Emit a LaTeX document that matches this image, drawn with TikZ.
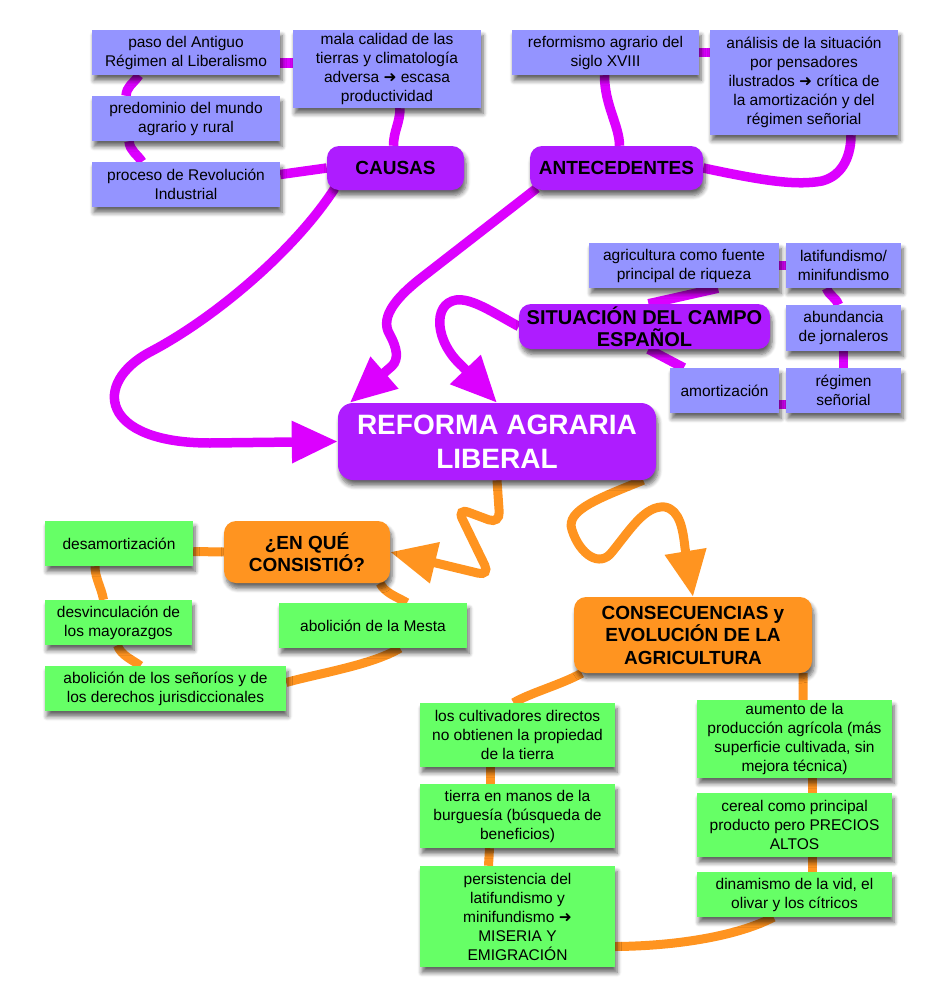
\documentclass[tikz,border=0pt]{standalone}
\usepackage{fontspec}
\setmainfont{Liberation Sans}
\newfontfamily\dejavu{DejaVu Sans}
\usetikzlibrary{arrows.meta,shadows.blur}
\definecolor{lineP}{RGB}{220,0,255}
\definecolor{nodeP}{RGB}{174,28,255}
\definecolor{lav}{RGB}{148,148,255}
\definecolor{grn}{RGB}{102,255,102}
\definecolor{org}{RGB}{255,148,32}
\definecolor{framec}{RGB}{226,226,222}
\pgfdeclarelayer{back}
\pgfdeclarelayer{edges}
\pgfsetlayers{back,edges,main}
\newcommand{\arr}{{\dejavu\bfseries ➜}}
\tikzset{
 shad/.style={blur shadow={shadow xshift=2pt, shadow yshift=-5.5pt, shadow blur steps=6, shadow blur radius=4.5pt, shadow opacity=60}},
 base/.style={inner sep=0pt, align=center, font=\fontsize{15.5}{19}\selectfont, shad},
 sz/.style 2 args={minimum width=#1pt, minimum height=#2pt},
 lavbox/.style={base, fill=lav},
 grnbox/.style={base, fill=grn},
 headP/.style={base, fill=nodeP, rounded corners=12pt, font=\fontsize{19}{22}\bfseries\selectfont},
 headO/.style={base, fill=org, rounded corners=12pt, font=\fontsize{19}{22.5}\bfseries\selectfont},
 pl/.style={line width=9.5pt, draw=lineP},
 ol/.style={line width=9pt, draw=org},
 bigtip/.style={-{Triangle[length=46pt,width=40pt]}},
}
\begin{document}
\begin{tikzpicture}[x=1pt,y=-1pt]
\useasboundingbox (0,0) rectangle (930,998);
\begin{pgfonlayer}{back}
\fill[framec] (0,0) rectangle (930,998);
\fill[white] (14,5) rectangle (930,998);
\end{pgfonlayer}
% off-page shadow so that every visible shadow is rendered with its fading
\path[shad, fill=white] (-200,-200) rectangle (-190,-190);

% CAUSAS group
\node[lavbox, sz={188}{45}] (paso) at (186,52.5) {paso del Antiguo\\Régimen al Liberalismo};
\node[lavbox, sz={188}{78}] (mala) at (387,69) {mala calidad de las\\tierras y climatología\\adversa \arr{} escasa\\productividad};
\node[lavbox, sz={188}{45}] (predo) at (186,118.5) {predominio del mundo\\agrario y rural};
\node[lavbox, sz={188}{45}] (proce) at (186,184.5) {proceso de Revolución\\Industrial};
\node[headP, sz={137}{44}] (causas) at (395.5,168) {CAUSAS};

% ANTECEDENTES group
\node[lavbox, sz={187}{45}] (refor) at (605.5,52.5) {reformismo agrario del\\siglo XVIII};
\node[lavbox, sz={188}{105}] (anali) at (804,82.5) {análisis de la situación\\por pensadores\\ilustrados \arr{} crítica de\\la amortización y del\\régimen señorial};
\node[headP, sz={173}{44}] (antec) at (616.5,168) {ANTECEDENTES};

% SITUACION group
\node[lavbox, sz={190}{45}] (agric) at (684,265.5) {agricultura como fuente\\principal de riqueza};
\node[lavbox, sz={115}{45}] (latif) at (843.5,265.5) {latifundismo/\\minifundismo};
\node[headP, sz={251}{45}, font=\fontsize{20}{22}\bfseries\selectfont] (situ) at (644.5,326.5) {SITUACIÓN DEL CAMPO\\ESPAÑOL};
\node[lavbox, sz={115}{46}] (abund) at (843.5,328) {abundancia\\de jornaleros};
\node[lavbox, sz={109}{45}] (amort) at (724.5,390.5) {amortización};
\node[lavbox, sz={115}{45}] (regim) at (843.5,390.5) {régimen\\señorial};

% central
\node[base, fill=nodeP, rounded corners=15pt, sz={318}{77}, text=white, font=\fontsize{28}{34}\bfseries\selectfont] (reforma) at (497,441.5) {REFORMA AGRARIA\\LIBERAL};

% EN QUE CONSISTIO group
\node[headO, sz={166}{62}] (enque) at (307,552) {¿EN QUÉ\\CONSISTIÓ?};
\node[grnbox, sz={148}{45}] (desam) at (119,543.5) {desamortización};
\node[grnbox, sz={147}{45}] (desvin) at (118.5,622.5) {desvinculación de\\los mayorazgos};
\node[grnbox, sz={188}{45}] (mesta) at (373,625.5) {abolición de la Mesta};
\node[grnbox, sz={241}{45}] (senor) at (165.5,688.5) {abolición de los señoríos y de\\los derechos jurisdiccionales};

% CONSECUENCIAS group
\node[headO, sz={238}{76}] (conse) at (693,635) {CONSECUENCIAS y\\EVOLUCIÓN DE LA\\AGRICULTURA};
\node[grnbox, sz={195}{64}] (cultiv) at (517.5,735) {los cultivadores directos\\no obtienen la propiedad\\de la tierra};
\node[grnbox, sz={195}{64}] (tierra) at (517.5,816) {tierra en manos de la\\burguesía (búsqueda de\\beneficios)};
\node[grnbox, sz={195}{101}] (persist) at (517.5,916.5) {persistencia del\\latifundismo y\\minifundismo \arr\\MISERIA Y\\EMIGRACIÓN};
\node[grnbox, sz={195}{78}] (aumento) at (794.5,739) {aumento de la\\producción agrícola (más\\superficie cultivada, sin\\mejora técnica)};
\node[grnbox, sz={195}{64}] (cereal) at (794.5,825) {cereal como principal\\producto pero PRECIOS\\ALTOS};
\node[grnbox, sz={195}{45}] (dinam) at (794.5,894.5) {dinamismo de la vid, el\\olivar y los cítricos};

\begin{pgfonlayer}{edges}
% causas links
\draw[pl] ([yshift=-10.5pt]paso.east) -- ([yshift=6pt]mala.west);
\draw[pl] ([xshift=-47pt]paso.south) .. controls +(-7,10) and +(1,-10) .. ([xshift=-60pt]predo.north);
\draw[pl] ([xshift=-57pt]predo.south) .. controls +(1,10) and +(-5,-8) .. ([xshift=-44pt]proce.north);
\draw[pl] ([xshift=13pt]mala.south) .. controls +(0,15) and +(0,-15) .. ([xshift=-2pt]causas.north);
\draw[pl] ([yshift=10pt]proce.east) -- (causas.west);
\draw[pl,bigtip] ([xshift=8pt,yshift=2pt]causas.south west) .. controls (295,250) and (215,318) .. (150,352) .. controls (92,383) and (100,443) .. (210,443) -- (reforma.west);
% antecedentes links
\draw[pl] (refor.east) -- ([yshift=30pt]anali.west);
\draw[pl] ([xshift=-1pt]refor.south) .. controls +(0,30) and +(0,-20) .. ([xshift=3pt]antec.north);
\draw[pl] (antec.east) .. controls (760,180) and (795,186) .. (822,181) .. controls (845,175) and (851,152) .. ([xshift=47pt]anali.south);
\draw[pl,bigtip] ([xshift=7pt,yshift=2pt]antec.south west) -- (425,275) .. controls (400,294) and (378,316) .. (390,335) .. controls (397,348) and (399,359) .. (392,366) -- ([xshift=12pt]reforma.north west);
% situacion links
\draw[pl] (agric.east) -- (latif.west);
\draw[pl] ([xshift=-17pt]latif.south) .. controls +(3,8) and +(-3,-8) .. ([xshift=-5pt]abund.north);
\draw[pl] (abund.south) -- (regim.north);
\draw[pl] ([yshift=-14pt]amort.east) -- ([yshift=-14pt]regim.west);
\draw[pl] ([xshift=4pt]situ.north) -- ([xshift=34pt]agric.south);
\draw[pl] ([xshift=4pt]situ.south) -- ([xshift=14pt]amort.north west);
\draw[pl,bigtip] (situ.west) .. controls (492,312) and (472,298) .. (456,300) .. controls (432,304) and (435,342) .. (462,366) -- (reforma.north);
% en que consistio
\draw[ol,bigtip,rounded corners=12pt] (reforma.south) -- (500,524) -- (457,508) -- (490,576) -- (enque.east);
\draw[ol] ([yshift=-8pt]desam.east) -- (enque.west);
\draw[ol] ([xshift=-24pt]desam.south) .. controls +(0,12) and +(-2,-12) .. ([xshift=-15pt]desvin.north);
\draw[ol] ([xshift=-1pt]desvin.south) .. controls +(3,10) and +(-8,-6) .. ([xshift=-25pt]senor.north);
\draw[ol] ([xshift=73pt]enque.south) .. controls +(5,10) and +(-10,-6) .. ([xshift=34pt]mesta.north);
\draw[ol] ([xshift=27pt]mesta.south) .. controls (372,665) and (320,673) .. ([yshift=6pt]senor.east);
% consecuencias
\draw[ol,bigtip] ([xshift=-13pt]reforma.south east) .. controls (600,498) and (565,510) .. (572,530) .. controls (580,555) and (600,568) .. (612,552) .. controls (630,530) and (645,505) .. (665,507) .. controls (680,510) and (683,530) .. (685,548) -- (conse.north);
\draw[ol] ([xshift=8pt]conse.south west) .. controls (560,685) and (530,693) .. ([xshift=-4pt]cultiv.north);
\draw[ol] ([xshift=-9pt]conse.south east) -- ([xshift=8.5pt]aumento.north);
\draw[ol] ([xshift=-27pt]cultiv.south) -- ([xshift=-27pt]tierra.north);
\draw[ol] ([xshift=-28pt]tierra.south) -- ([xshift=-29pt]persist.north);
\draw[ol] ([xshift=18pt]aumento.south) -- ([xshift=18pt]cereal.north);
\draw[ol] ([xshift=18pt]cereal.south) -- ([xshift=18pt]dinam.north);
\draw[ol] ([xshift=-21pt]dinam.south) .. controls (740,935) and (680,946) .. ([yshift=-30pt]persist.east);
\end{pgfonlayer}
\end{tikzpicture}
\end{document}
